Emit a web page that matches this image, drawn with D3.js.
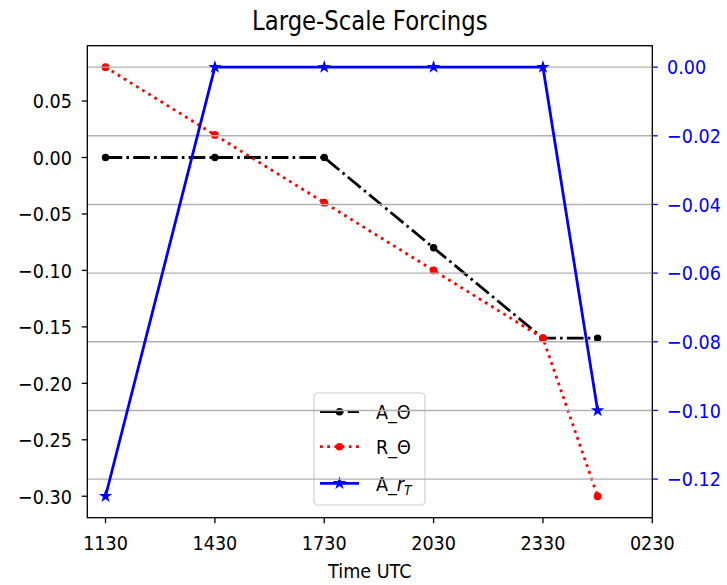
<!DOCTYPE html>
<html>
<head>
<meta charset="utf-8">
<script src="https://cdn.jsdelivr.net/npm/d3@7/dist/d3.min.js"></script>
<style>
  html, body { margin: 0; padding: 0; background: #fff; }
  svg { display: block; font-family: "DejaVu Sans", sans-serif; }
</style>
</head>
<body>
<svg id="chart" width="727" height="585"></svg>
<script>
// Observation times (decimal hours; 25 = 0100 next day)
const hours = [11.5, 14.5, 17.5, 20.5, 23.5, 25.0];
// Tick positions and labels on the time axis
const xTickHours = [11.5, 14.5, 17.5, 20.5, 23.5, 26.5];
const xTickLabels = ["1130", "1430", "1730", "2030", "2330", "0230"];

// Left-axis series
const aTheta = [0, 0, 0, -0.08, -0.16, -0.16];
const rTheta = [0.08, 0.02, -0.04, -0.10, -0.16, -0.30];
// Right-axis series
const aRT = [-0.125, 0, 0, 0, 0, -0.10];

const leftTicks = [0.05, 0.00, -0.05, -0.10, -0.15, -0.20, -0.25, -0.30];
const rightTicks = [0.00, -0.02, -0.04, -0.06, -0.08, -0.10, -0.12];

const W = 727, H = 585;
const m = { left: 87.3, right: 652.3, top: 45.7, bottom: 517.7 };
const FS = 17.6;
const SY = 1.15; // vertical glyph stretch

const svg = d3.select("#chart");
svg.append("rect").attr("width", W).attr("height", H).attr("fill", "#fff");

const x = d3.scaleLinear().domain([11.0, 26.5]).range([m.left, m.right]);
const yL = d3.scaleLinear().domain([-0.319, 0.099]).range([m.bottom, m.top]);
const yR = d3.scaleLinear().domain([-0.13125, 0.00625]).range([m.bottom, m.top]);

const fmt = d3.format(".2f");
const LW = 2.8;

// text placed at (tx, ty) with a slight vertical stretch
function label(parent, tx, ty, anchor, size, color, dy) {
  const g = parent.append("g").attr("transform", `translate(${tx},${ty}) scale(1,${SY})`);
  return g.append("text").attr("x", 0).attr("y", 0).attr("dy", dy || null)
    .attr("text-anchor", anchor).attr("font-size", size).attr("fill", color);
}

// ----- left-axis layer -----
const lineL = d3.line().x((d, i) => x(hours[i])).y(d => yL(d));

svg.append("path").datum(aTheta)
  .attr("d", lineL).attr("fill", "none").attr("stroke", "#000")
  .attr("stroke-width", LW).attr("stroke-dasharray", "16.7 4.2 2.6 4.2");
svg.append("g").selectAll("circle").data(aTheta).join("circle")
  .attr("cx", (d, i) => x(hours[i])).attr("cy", d => yL(d)).attr("r", 3.7).attr("fill", "#000");

svg.append("path").datum(rTheta)
  .attr("d", lineL).attr("fill", "none").attr("stroke", "#ff0000")
  .attr("stroke-width", LW).attr("stroke-dasharray", "2.8 4.4");
svg.append("g").selectAll("circle").data(rTheta).join("circle")
  .attr("cx", (d, i) => x(hours[i])).attr("cy", d => yL(d)).attr("r", 3.9).attr("fill", "#ff0000");

// Legend
const lg = svg.append("g");
lg.append("rect").attr("x", 314).attr("y", 393).attr("width", 111).attr("height", 112)
  .attr("rx", 4).attr("fill", "#fff").attr("fill-opacity", 0.8)
  .attr("stroke", "#d0d0d0").attr("stroke-width", 1.2);

const legendItems = [
  { key: "A_Θ", color: "#000", dash: "16.7 4.2 2.6 4.2", marker: "dot", y: 411.7 },
  { key: "R_Θ", color: "#ff0000", dash: "2.8 4.4", marker: "dot", y: 446.7 },
  { key: "A_rT", color: "#0000ff", dash: null, marker: "star", y: 483.3 }
];
legendItems.forEach(it => {
  lg.append("line").attr("x1", 320).attr("x2", 359).attr("y1", it.y).attr("y2", it.y)
    .attr("stroke", it.color).attr("stroke-width", LW)
    .attr("stroke-dasharray", it.dash);
  if (it.marker === "dot") {
    lg.append("circle").attr("cx", 339.5).attr("cy", it.y).attr("r", 3.8).attr("fill", it.color);
  } else {
    lg.append("path").attr("d", d3.symbol(d3.symbolStar, 56)())
      .attr("transform", `translate(339.5,${it.y})`).attr("fill", it.color);
  }
  const t = label(lg, 376, it.y, "start", FS, "#000", "0.36em");
  if (it.key === "A_rT") {
    t.append("tspan").text("A_");
    t.append("tspan").attr("font-style", "italic").text("r");
    t.append("tspan").attr("font-style", "italic").attr("font-size", FS * 0.7)
      .attr("dy", 4).text("T");
  } else {
    t.text(it.key);
  }
});

// Left axis
svg.append("g").selectAll("line").data(leftTicks).join("line")
  .attr("x1", m.left - 5.5).attr("x2", m.left).attr("y1", d => yL(d)).attr("y2", d => yL(d))
  .attr("stroke", "#000").attr("stroke-width", 1.3);
const gL = svg.append("g");
leftTicks.forEach(d => label(gL, 72, yL(d), "end", FS, "#000", "0.36em").text(fmt(d)));

// X axis
svg.append("g").selectAll("line").data(xTickHours).join("line")
  .attr("x1", d => x(d)).attr("x2", d => x(d)).attr("y1", m.bottom).attr("y2", m.bottom + 5.5)
  .attr("stroke", "#000").attr("stroke-width", 1.3);
const gX = svg.append("g");
xTickHours.forEach((d, i) => label(gX, x(d), 550, "middle", FS, "#000").text(xTickLabels[i]));

label(svg, (m.left + m.right) / 2, 578, "middle", FS, "#000").text("Time UTC");

// ----- right-axis layer (drawn on top) -----
svg.append("g").selectAll("line").data(rightTicks).join("line")
  .attr("x1", m.left).attr("x2", m.right).attr("y1", d => yR(d)).attr("y2", d => yR(d))
  .attr("stroke", "#b0b0b0").attr("stroke-width", 1.4);

const lineR = d3.line().x((d, i) => x(hours[i])).y(d => yR(d));
svg.append("path").datum(aRT)
  .attr("d", lineR).attr("fill", "none").attr("stroke", "#0000ff").attr("stroke-width", LW);
svg.append("g").selectAll("path").data(aRT).join("path")
  .attr("d", d3.symbol(d3.symbolStar, 56)())
  .attr("transform", (d, i) => `translate(${x(hours[i])},${yR(d)})`)
  .attr("fill", "#0000ff");

svg.append("g").selectAll("line").data(rightTicks).join("line")
  .attr("x1", m.right).attr("x2", m.right + 5.5).attr("y1", d => yR(d)).attr("y2", d => yR(d))
  .attr("stroke", "#0000ff").attr("stroke-width", 1.3);
const gR = svg.append("g");
rightTicks.forEach(d => label(gR, 667, yR(d), "start", FS, "#0000ff", "0.36em").text(fmt(d)));

// Frame
svg.append("rect").attr("x", m.left).attr("y", m.top)
  .attr("width", m.right - m.left).attr("height", m.bottom - m.top)
  .attr("fill", "none").attr("stroke", "#000").attr("stroke-width", 1.3);

// Title
label(svg, (m.left + m.right) / 2, 29.5, "middle", 22.8, "#000").text("Large-Scale Forcings");
</script>
</body>
</html>
